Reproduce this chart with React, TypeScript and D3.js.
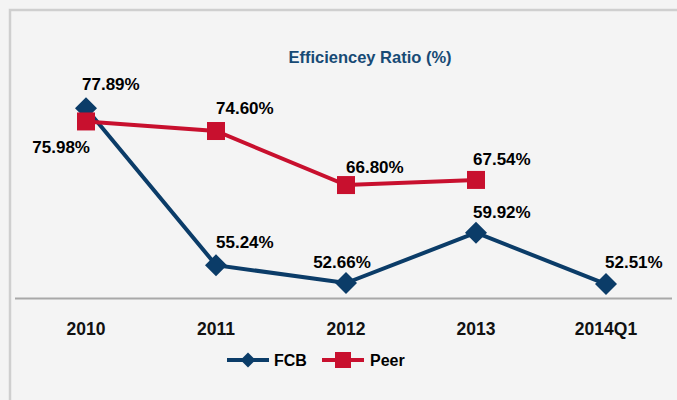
import * as d3 from 'd3';
import React from 'react';

// chart data
const categories = ['2010', '2011', '2012', '2013', '2014Q1'];
const fcbValues = [77.89, 55.24, 52.66, 59.92, 52.51];
const peerValues = [75.98, 74.6, 66.8, 67.54];
const seriesNames = ['FCB', 'Peer'];

const W = 677;
const H = 400;
const FCB_COLOR = '#0b3c68';
const PEER_COLOR = '#c8102e';
const FONT = '"Liberation Sans", Arial, sans-serif';

// label placement per point: [dx, dy, anchor]
const fcbLabelPos: [number, number, string][] = [
  [-4, -18, 'start'],
  [0, -17, 'start'],
  [-4, -15, 'middle'],
  [-3, -15, 'start'],
  [-1, -16, 'start'],
];
const peerLabelPos: [number, number, string][] = [
  [4, 32, 'end'],
  [0, -17, 'start'],
  [0, -12, 'start'],
  [-3, -15, 'start'],
];

export default function App() {
  const x = d3.scalePoint<string>().domain(categories).range([86, 606]);
  const y = d3.scaleLinear().domain([50.5, 80]).range([298, 93.6]);

  const line = d3
    .line<number>()
    .x((_, i) => x(categories[i]) as number)
    .y((d) => y(d));

  const diamond = (cx: number, cy: number, r: number) =>
    `M${cx},${cy - r}L${cx + r},${cy}L${cx},${cy + r}L${cx - r},${cy}Z`;

  const fmt = (v: number) => d3.format('.2f')(v) + '%';

  return (
    <svg
      width={W}
      height={H}
      style={{ position: 'absolute', left: 0, top: 0, background: '#f4f4f4' }}
      fontFamily={FONT}
    >
      {/* panel border */}
      <path d={`M10,${H}V10H${W}`} fill="none" stroke="#cfcfcf" strokeWidth={2.5} />

      <text
        x={370}
        y={63}
        textAnchor="middle"
        fontSize={16.5}
        fontWeight="bold"
        fill="#174a75"
      >
        Efficiencey Ratio (%)
      </text>

      {/* baseline axis */}
      <line x1={15} x2={672} y1={298.5} y2={298.5} stroke="#a8a8a8" strokeWidth={2} />
      {categories.map((c) => (
        <text
          key={c}
          x={x(c)}
          y={335}
          textAnchor="middle"
          fontSize={17.5}
          fontWeight="bold"
          fill="#111"
        >
          {c}
        </text>
      ))}

      {/* FCB series */}
      <path d={line(fcbValues) || ''} fill="none" stroke={FCB_COLOR} strokeWidth={4} />
      {fcbValues.map((v, i) => (
        <path key={i} d={diamond(x(categories[i]) as number, y(v), 11)} fill={FCB_COLOR} />
      ))}

      {/* Peer series */}
      <path d={line(peerValues) || ''} fill="none" stroke={PEER_COLOR} strokeWidth={4} />
      {peerValues.map((v, i) => (
        <rect
          key={i}
          x={(x(categories[i]) as number) - 9}
          y={y(v) - 9}
          width={18}
          height={18}
          fill={PEER_COLOR}
        />
      ))}

      {/* data labels */}
      {fcbValues.map((v, i) => (
        <text
          key={'f' + i}
          x={(x(categories[i]) as number) + fcbLabelPos[i][0]}
          y={y(v) + fcbLabelPos[i][1]}
          textAnchor={fcbLabelPos[i][2]}
          fontSize={17}
          fontWeight="bold"
          fill="#000"
        >
          {fmt(v)}
        </text>
      ))}
      {peerValues.map((v, i) => (
        <text
          key={'p' + i}
          x={(x(categories[i]) as number) + peerLabelPos[i][0]}
          y={y(v) + peerLabelPos[i][1]}
          textAnchor={peerLabelPos[i][2]}
          fontSize={17}
          fontWeight="bold"
          fill="#000"
        >
          {fmt(v)}
        </text>
      ))}

      {/* legend */}
      <g transform="translate(227,360)">
        <line x1={0} x2={42} y1={0} y2={0} stroke={FCB_COLOR} strokeWidth={4} />
        <path d={diamond(21, 0, 7.5)} fill={FCB_COLOR} />
        <text x={47} y={6} fontSize={16} fontWeight="bold" fill="#000">
          {seriesNames[0]}
        </text>
      </g>
      <g transform="translate(322,360)">
        <line x1={0} x2={42} y1={0} y2={0} stroke={PEER_COLOR} strokeWidth={4} />
        <rect x={13} y={-8} width={16} height={16} fill={PEER_COLOR} />
        <text x={48} y={6} fontSize={16} fontWeight="bold" fill="#000">
          {seriesNames[1]}
        </text>
      </g>
    </svg>
  );
}
